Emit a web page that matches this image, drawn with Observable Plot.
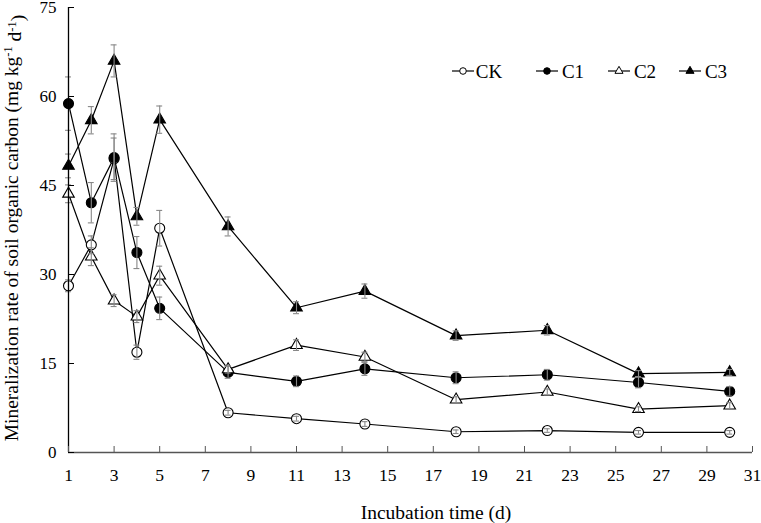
<!DOCTYPE html>
<html><head><meta charset="utf-8">
<script src="https://cdn.jsdelivr.net/npm/d3@7"></script>
<script src="https://cdn.jsdelivr.net/npm/@observablehq/plot@0.6"></script>
<style>body{margin:0;background:#fff} #chart{position:relative;width:761px;height:523px} #chart svg text{font-family:"Liberation Serif","Times New Roman",serif}</style>
</head><body><div id="chart"></div>
<script>
const days = [1, 2, 3, 4, 5, 8, 11, 14, 18, 22, 26, 30];
const seriesNames = ["CK", "C1", "C2", "C3"];
const CK    = [28.1, 35.0, 49.5, 16.9, 37.8, 6.7, 5.7, 4.8, 3.5, 3.7, 3.4, 3.4];
const CKerr = [1.0, 1.5, 3.5, 1.2, 3.0, 0.4, 0.4, 0.4, 0.3, 0.3, 0.3, 0.3];
const C1    = [58.8, 42.1, 49.7, 33.7, 24.3, 13.5, 12.0, 14.1, 12.6, 13.1, 11.8, 10.3];
const C1err = [4.5, 3.4, 4.0, 2.7, 1.9, 1.0, 0.9, 1.1, 1.0, 0.9, 0.9, 0.8];
const C2    = [43.6, 33.0, 25.6, 22.9, 29.8, 14.0, 18.1, 16.1, 8.9, 10.2, 7.3, 7.9];
const C2err = [1.5, 1.5, 1.0, 1.0, 1.6, 0.6, 0.9, 0.8, 0.5, 0.5, 0.4, 0.5];
const C3    = [48.3, 56.0, 66.0, 39.8, 56.1, 38.1, 24.4, 27.2, 19.7, 20.6, 13.3, 13.5];
const C3err = [2.0, 2.3, 2.7, 1.5, 2.3, 1.6, 1.0, 1.2, 0.8, 0.8, 0.5, 0.5];
const xTicks = [1, 3, 5, 7, 9, 11, 13, 15, 17, 19, 21, 23, 25, 27, 29, 31];
const yTicks = [0, 15, 30, 45, 60, 75];

const valueMap = {CK, C1, C2, C3};
const errMap = {CK: CKerr, C1: C1err, C2: C2err, C3: C3err};
const style = {
  CK: {symbol: "circle", fill: "#fff", r: 5},
  C1: {symbol: "circle", fill: "#000", r: 5},
  C2: {symbol: "triangle", fill: "#fff", r: 4.3},
  C3: {symbol: "triangle", fill: "#000", r: 4.3}
};
const rows = seriesNames.flatMap(s => days.map((d, i) => ({series: s, day: d, value: valueMap[s][i], err: errMap[s][i]})));

const font = "Liberation Serif";
const capHalf = 0.13;

const marks = [
  Plot.line(rows, {x: "day", y: "value", z: "series", stroke: "#000", strokeWidth: 1.2}),
  ...seriesNames.map(s => Plot.dot(rows.filter(d => d.series === s), {
    x: "day", y: "value", symbol: () => style[s].symbol, r: style[s].r,
    fill: style[s].fill, stroke: "#000", strokeWidth: 1.1
  })),
  Plot.ruleX(rows, {x: "day", y1: d => d.value - d.err, y2: d => d.value + d.err, stroke: "#888", strokeWidth: 1.1}),
  Plot.ruleY(rows, {y: d => d.value + d.err, x1: d => d.day - capHalf, x2: d => d.day + capHalf, stroke: "#888", strokeWidth: 1.1}),
  Plot.ruleY(rows, {y: d => d.value - d.err, x1: d => d.day - capHalf, x2: d => d.day + capHalf, stroke: "#888", strokeWidth: 1.1}),
  Plot.ruleY([0], {stroke: "#555", strokeWidth: 1.3}),
  Plot.ruleX([1], {stroke: "#000", strokeWidth: 1.3}),
  Plot.axisX({ticks: xTicks, tickSize: -6, tickPadding: 22, label: null, stroke: "#555", fontSize: 17.5, fontFamily: font, tickFormat: d => String(d)}),
  Plot.axisY({ticks: yTicks, tickSize: -6, tickPadding: 18, label: null, stroke: "#000", fontSize: 17, fontFamily: font})
];

const svg = Plot.plot({
  width: 761, height: 523,
  marginLeft: 68, marginRight: 9, marginTop: 7, marginBottom: 71,
  style: {fontFamily: font, fontSize: "17px", color: "#000", background: "#fff", overflow: "visible"},
  x: {domain: [1, 31]},
  y: {domain: [0, 75]},
  symbol: {domain: ["circle", "triangle"], range: ["circle", "triangle"], type: "identity"},
  marks
});

const root = d3.select(svg);
// axis titles
root.append("text")
  .attr("x", 436).attr("y", 519)
  .attr("text-anchor", "middle")
  .attr("font-family", font).style("font-size", "19.5px").attr("fill", "#000")
  .text("Incubation time (d)");

const yl = root.append("text")
  .attr("transform", "translate(18,228) rotate(-90)")
  .attr("text-anchor", "middle")
  .attr("font-family", font).style("font-size", "19.5px").attr("fill", "#000");
yl.append("tspan").text("Mineralization rate of soil organic carbon (mg kg");
yl.append("tspan").attr("dy", "-0.45em").style("font-size", "12.5px").text("-1");
yl.append("tspan").attr("dy", "0.45em").text(" d");
yl.append("tspan").attr("dy", "-0.45em").style("font-size", "12.5px").text("-1");
yl.append("tspan").attr("dy", "0.45em").text(")");

// legend
const legendX = [463, 547, 619, 690];
const lg = root.append("g").attr("transform", "translate(0,71)");
seriesNames.forEach((s, i) => {
  const cx = legendX[i];
  lg.append("line").attr("x1", cx - 11).attr("x2", cx + 11).attr("y1", 0).attr("y2", 0).attr("stroke", "#000").attr("stroke-width", 1.2);
  const st = style[s];
  const sym = st.symbol === "circle" ? d3.symbolCircle : d3.symbolTriangle;
  lg.append("path").attr("transform", `translate(${cx},0)`)
    .attr("d", d3.symbol(sym, st.symbol === "circle" ? Math.PI * 3.3 * 3.3 : Math.PI * 3 * 3)())
    .attr("fill", st.fill).attr("stroke", "#000").attr("stroke-width", 1);
  lg.append("text").attr("x", cx + 26).attr("y", 0).attr("dy", "0.35em")
    .attr("font-family", font).style("font-size", "19px").attr("fill", "#000").text(s);
});

document.getElementById("chart").appendChild(svg);
</script>
</body></html>
